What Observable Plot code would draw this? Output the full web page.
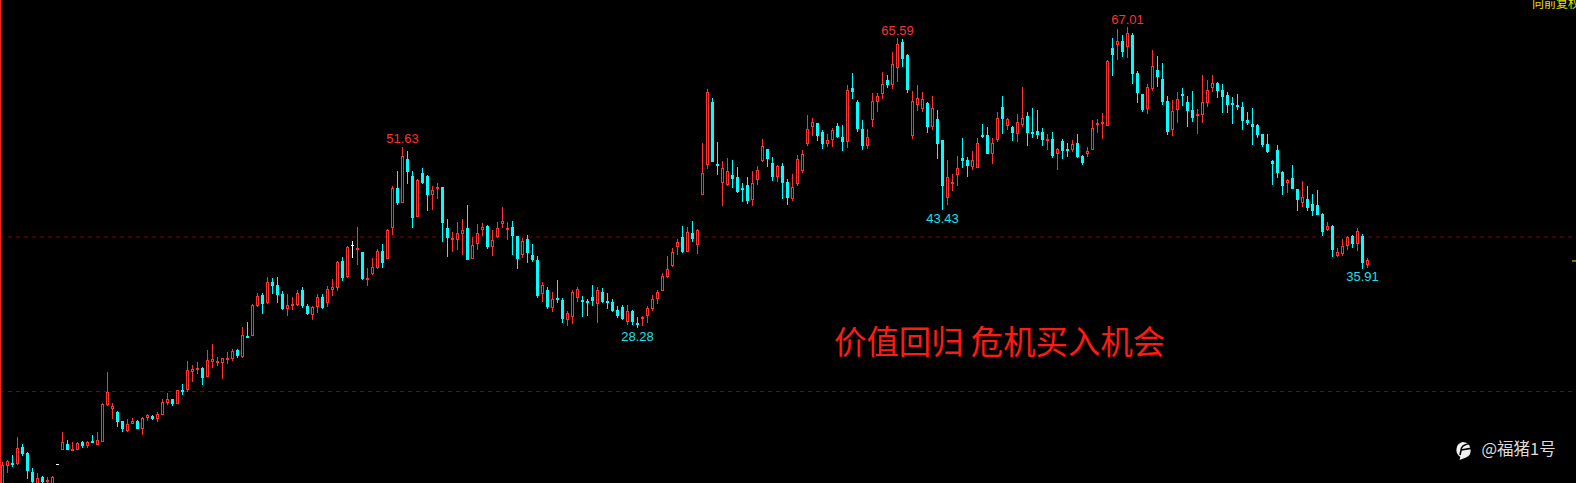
<!DOCTYPE html>
<html><head><meta charset="utf-8">
<style>html,body{margin:0;padding:0;background:#000;overflow:hidden}svg{display:block}</style>
<script src="https://cdn.jsdelivr.net/npm/d3@7"></script>
<script src="https://cdn.jsdelivr.net/npm/@observablehq/plot@0.6"></script>
</head><body><div id="chart"></div>
<script>
const tones = "rrcrcccrcr"+"rwrcrrcrcr"+"rrrccrrcrr"+"crrrcrcrrr"+"crrrrrrcrc"+"rrcrcccrrr"+"ccrrcrrrcr"+"wrcrrrcrrc"+"rccrccrrcc"+"rrrcrrrcrr"+"rrccrcccrc"+"rccrrrcccr"+"cccccrccrr"+"rrrrrrcrcr"+"rrccrrcccc"+"rrrccrccrr"+"rrrccrrccr"+"cccrrrrcrr"+"ccrrrcrccr"+"rrccrrccrr"+"crcrrccccr"+"crccrccrrr"+"rrcrcrcccr"+"rcccrrcccr"+"rrrccccccc"+"cccccccrcc"+"rccccrcrrr"+"crcr";
const high = [11.04,11.30,11.90,14.25,13.35,12.33,10.27,9.62,9.24,9.11,
9.24,10.78,14.90,13.87,13.61,13.57,13.70,13.70,14.51,14.90,
18.59,22.62,18.63,17.60,16.31,16.57,16.70,16.44,16.79,17.21,
17.09,17.47,19.10,19.92,19.14,20.30,21.07,24.03,23.52,23.91,
23.26,25.45,26.22,24.51,24.42,25.19,25.58,25.58,28.41,29.05,
31.37,32.74,32.74,34.84,34.67,34.84,33.04,32.66,32.27,33.17,
33.56,31.37,31.11,32.66,32.66,33.69,34.59,36.90,37.42,38.83,
39.48,41.28,38.06,36.00,37.29,38.45,39.09,41.02,46.55,48.48,
51.63,51.06,48.48,47.45,48.87,47.97,46.55,46.94,46.42,42.31,
40.63,41.92,42.31,44.11,39.99,41.66,41.79,41.53,40.89,41.92,
43.85,41.92,42.05,40.12,39.86,40.25,39.09,37.54,34.20,33.56,
32.91,34.46,32.14,30.47,33.17,33.56,32.40,32.01,33.81,33.56,
33.43,32.78,32.01,31.11,31.24,31.24,30.60,29.70,29.82,31.11,
32.53,33.17,35.36,37.54,38.57,39.73,41.40,41.28,42.05,41.02,
52.08,59.03,57.87,52.21,49.77,50.15,49.90,49.00,46.94,47.71,
48.48,49.12,52.60,51.31,50.28,49.25,49.51,47.45,48.10,50.54,
51.18,55.69,55.30,54.66,53.76,53.24,54.01,54.66,54.40,59.55,
61.05,57.62,55.04,53.89,58.52,58.52,61.22,60.83,63.79,65.59,
65.50,63.54,58.78,59.55,58.65,57.36,58.13,56.33,52.47,49.90,
48.10,50.41,52.73,50.28,51.05,52.73,54.53,54.14,52.73,56.07,
58.13,55.30,54.27,55.81,59.29,56.07,56.59,56.33,54.01,53.24,
53.50,51.44,52.60,52.08,52.47,53.24,50.54,51.57,55.04,55.17,
55.94,62.76,65.59,66.75,65.98,67.01,66.24,61.35,58.39,59.68,
64.05,63.28,62.38,58.13,57.62,58.65,59.16,58.13,58.77,56.46,
60.83,60.19,60.83,59.93,59.68,58.65,58.00,58.39,57.36,56.07,
56.59,54.53,53.24,53.24,49.90,51.83,48.49,47.45,49.25,46.16,
47.19,46.55,45.52,46.04,43.08,41.92,41.53,38.57,39.73,40.12,
40.25,41.15,40.38,37.29];
const bodyTop = [10.61,11.12,10.91,12.80,12.97,12.20,9.75,8.94,9.11,8.72,
9.11,10.78,13.57,13.35,12.67,13.44,13.57,13.65,13.74,13.83,
18.46,20.00,18.24,17.47,16.31,15.93,16.31,16.31,16.70,17.09,
16.96,17.21,18.72,19.10,19.14,20.26,20.30,22.83,23.00,23.13,
23.13,24.12,24.25,24.03,24.38,24.42,25.28,25.45,27.34,27.21,
31.24,32.36,32.53,34.16,34.20,33.81,32.66,31.20,31.37,32.74,
33.17,31.11,30.94,32.23,32.27,33.26,33.51,36.77,36.90,38.66,
38.96,38.58,38.06,34.71,36.13,38.15,38.19,40.89,46.29,46.29,
50.37,50.03,47.84,47.32,48.22,47.84,46.04,46.42,46.42,41.15,
39.90,40.50,40.85,41.15,38.96,40.50,41.28,41.41,39.60,41.15,
42.05,41.15,41.28,40.12,39.47,39.73,37.67,37.03,33.81,33.17,
32.01,32.14,31.88,30.21,32.91,33.30,31.88,31.75,32.27,33.17,
32.91,31.75,31.63,30.60,30.98,30.47,30.47,28.92,29.70,30.85,
32.01,32.91,34.97,35.87,38.06,39.35,39.99,40.63,40.50,40.89,
48.22,58.65,57.36,49.38,48.87,48.48,47.97,47.71,46.29,46.68,
46.94,48.61,51.70,51.31,49.51,49.12,49.12,47.07,46.42,50.02,
50.67,53.84,54.79,54.66,53.50,52.47,53.76,54.27,52.86,58.90,
59.16,57.36,53.89,52.86,57.49,58.13,59.68,60.19,62.25,64.82,
65.08,63.41,57.49,57.87,57.75,57.23,56.59,55.17,52.47,47.71,
47.07,48.87,50.15,49.90,49.90,52.08,53.11,53.11,52.08,55.30,
56.72,55.17,54.14,54.79,55.30,55.56,53.50,53.63,53.50,52.60,
52.60,51.31,52.34,51.31,51.96,52.08,50.41,51.05,54.01,54.66,
54.79,62.63,64.31,65.21,65.21,66.24,65.98,61.09,58.39,59.29,
61.99,61.48,60.32,57.49,56.20,57.75,58.39,57.36,56.33,55.82,
57.36,58.90,59.80,59.80,58.90,58.26,57.23,56.97,56.72,55.04,
54.53,54.40,53.24,51.96,49.77,51.18,48.35,47.32,47.58,46.16,
45.14,44.88,44.23,44.11,42.95,41.40,41.40,38.06,38.83,39.99,
40.12,40.76,40.12,37.03];
const bodyBottom = [7.86,10.57,10.65,10.78,12.03,9.92,8.42,7.86,8.42,8.46,
7.86,10.65,12.63,12.58,12.50,12.63,13.10,13.14,13.53,13.23,
13.65,18.42,17.90,16.19,15.29,15.03,15.93,15.29,15.33,16.70,
16.53,16.57,17.09,18.63,18.50,18.50,20.05,20.26,22.62,22.88,
21.85,21.97,23.91,23.78,23.78,24.16,24.29,24.63,24.55,26.99,
27.25,31.11,31.37,31.50,33.69,32.53,30.73,30.73,31.11,31.24,
31.11,30.08,29.95,30.98,30.85,31.50,33.17,33.43,34.71,34.84,
38.83,38.32,34.59,34.46,35.23,36.00,36.64,37.16,41.15,44.36,
44.41,48.35,42.43,42.56,46.94,45.39,45.39,46.17,41.79,39.86,
39.60,39.60,40.38,37.03,37.16,39.09,40.89,38.70,38.70,39.99,
41.66,40.89,40.12,37.16,37.67,37.93,37.03,32.40,32.66,30.98,
30.85,31.88,29.44,29.31,29.70,32.14,31.63,31.50,31.75,31.37,
31.63,31.50,30.47,29.82,29.44,29.05,29.05,28.67,29.44,29.82,
30.72,32.01,33.04,34.84,36.26,38.70,38.06,38.06,39.73,38.96,
45.39,49.25,49.64,49.12,46.98,46.68,47.45,45.78,46.04,44.62,
44.75,47.32,49.77,50.02,47.71,47.71,46.94,45.01,44.88,46.81,
48.48,51.96,54.14,52.98,51.96,51.96,52.47,52.86,52.21,52.21,
58.65,53.89,51.70,51.70,55.04,57.36,58.39,59.55,59.55,61.73,
62.89,58.90,52.98,56.97,56.46,54.14,54.14,51.96,46.55,45.01,
46.81,47.97,49.77,49.12,48.99,48.87,52.86,50.67,50.67,52.47,
55.17,54.27,53.37,53.24,54.40,53.37,53.24,53.11,52.47,52.34,
50.41,50.67,51.05,51.05,51.18,50.28,49.51,50.67,51.18,54.40,
54.53,54.27,63.41,64.69,63.79,64.44,60.96,58.52,56.33,56.46,
59.03,60.58,57.36,53.50,53.76,56.33,58.13,56.20,55.30,55.56,
55.69,57.23,59.16,58.77,58.00,56.97,56.97,56.72,54.91,54.66,
54.14,53.11,51.83,50.93,49.38,48.22,46.55,46.94,46.16,44.75,
44.36,43.72,43.34,42.82,40.63,40.89,38.31,37.54,37.80,38.83,
39.09,39.09,36.64,36.39];
const low = [7.65,9.62,10.40,10.65,11.81,8.85,8.21,7.65,8.21,8.21,
7.65,10.65,12.63,12.58,12.50,12.63,12.88,12.88,13.53,13.23,
13.65,18.29,16.57,15.54,14.90,14.90,15.93,15.29,14.51,16.31,
16.44,16.19,17.09,18.37,18.24,18.50,19.66,20.05,21.33,22.36,
20.95,21.97,23.13,23.39,21.72,23.65,24.03,24.42,24.42,26.99,
27.25,30.98,30.08,31.37,32.66,31.50,30.60,29.83,30.60,31.11,
30.85,29.95,29.31,30.21,30.73,30.98,32.40,33.04,34.33,34.71,
37.29,36.39,34.46,33.69,35.10,35.87,36.00,37.16,40.25,44.11,
44.41,46.81,41.15,42.56,46.81,43.33,43.46,44.88,39.35,37.42,
38.06,38.32,37.67,37.03,37.16,38.32,40.12,38.45,37.54,39.86,
41.15,39.60,37.67,35.87,37.29,36.64,36.77,32.14,31.63,30.72,
30.34,31.50,28.92,28.54,28.79,31.63,29.70,29.82,31.11,28.92,
31.50,30.72,30.34,29.57,29.31,28.67,28.67,28.28,28.54,28.92,
30.47,31.37,33.04,34.71,36.13,37.67,37.93,38.06,39.35,37.80,
45.39,48.74,49.64,47.97,43.98,46.55,46.29,45.65,44.49,44.23,
43.98,46.68,49.64,49.00,47.19,47.07,44.88,44.11,44.62,46.55,
48.22,51.70,52.98,52.34,51.31,51.57,51.57,52.73,51.05,51.44,
57.75,53.50,51.18,51.31,54.14,56.07,57.75,59.16,59.03,59.93,
61.86,58.52,52.60,56.20,56.07,53.37,53.76,50.03,43.43,44.11,
45.91,46.55,48.87,47.71,48.61,48.87,52.73,50.67,49.38,52.21,
53.24,53.76,52.34,52.21,54.14,51.70,52.73,52.60,51.70,51.18,
50.15,48.61,50.03,50.28,50.92,50.15,49.25,50.28,51.18,53.37,
52.60,54.27,60.70,62.76,63.15,63.02,59.68,57.23,56.07,55.81,
58.78,59.29,56.97,53.11,52.98,54.66,56.85,54.14,54.79,53.24,
54.66,56.72,58.65,57.87,55.94,55.94,54.53,56.33,53.76,54.40,
51.83,52.73,51.57,50.80,46.68,47.58,45.39,45.65,46.16,43.34,
43.85,43.34,42.69,42.82,40.12,40.76,37.42,37.42,37.54,38.31,
38.57,38.19,35.91,36.00];
const peakIdx = [80,179,225];
const troughIdx = [127,188,272];
const levels = [40.05,20.17];
const lastPriceTick = 36.97;
const headline = "价值回归 危机买入机会";
const watermark = "@福猪1号";
const corner = "向前复权";

const candles = Array.from(tones,(tone,i)=>({i,tone,high:high[i],top:bodyTop[i],bottom:bodyBottom[i],low:low[i]}));
const toneColor = {r:"#ff3232",c:"#00ffff",w:"#ffffff"};
const by = t=>candles.filter(d=>d.tone===t);

const chart = Plot.plot({
  width:1576,height:483,
  marginTop:0,marginRight:0,marginBottom:0,marginLeft:0,
  style:{background:"#000"},
  x:{type:"linear",domain:[-0.4,314.8],range:[0,1576],axis:null},
  y:{type:"linear",domain:[8.34,70.484],range:[483,0],axis:null},
  color:{type:"identity"},
  marks:[
    Plot.ruleY(levels,{stroke:"#8c0000",strokeWidth:1,strokeDasharray:"4 4"}),
    Plot.ruleY([lastPriceTick],{x1:314,x2:314.8,stroke:"#e6e600",strokeWidth:1}),
    Plot.ruleX([-0.4],{stroke:"#ff2020",strokeWidth:1}),
    Plot.ruleX(candles,{x:"i",y1:"low",y2:"high",stroke:d=>toneColor[d.tone],strokeWidth:1,shapeRendering:"crispEdges"}),
    Plot.rect(by("r"),{x1:d=>d.i-0.2,x2:d=>d.i+0.2,y1:"bottom",y2:"top",insetTop:0.5,insetBottom:0.5,fill:"#000",stroke:"#ff3232",strokeWidth:1,shapeRendering:"crispEdges"}),
    Plot.rect(by("c"),{x1:d=>d.i-0.3,x2:d=>d.i+0.3,y1:"bottom",y2:"top",fill:"#00ffff",shapeRendering:"crispEdges"}),
    Plot.rect(by("w"),{x1:d=>d.i-0.3,x2:d=>d.i+0.3,y1:"bottom",y2:"top",fill:"#ffffff",shapeRendering:"crispEdges"}),
    Plot.text(peakIdx,{x:d=>d,y:d=>high[d],text:d=>high[d].toFixed(2),dy:-8,fill:"#ff3232",fontFamily:"Liberation Sans",fontSize:13}),
    Plot.text(troughIdx,{x:d=>d,y:d=>low[d],text:d=>low[d].toFixed(2),dy:8,fill:"#1fe0e8",fontFamily:"Liberation Sans",fontSize:13}),
    Plot.text([headline],{x:166.3,y:26.35,text:d=>d,textAnchor:"start",fill:"#ff1a12",fontFamily:"Noto Sans CJK SC",fontWeight:400,fontSize:32.4}),
    Plot.text([watermark],{x:295.8,y:12.7,text:d=>d,textAnchor:"start",fill:"#dcdcdc",fontFamily:"Noto Sans CJK SC",fontSize:16.5}),
    Plot.text([corner],{x:305.9,y:70.05,text:d=>d,textAnchor:"start",fill:"#e0e000",fontFamily:"Noto Sans CJK SC",fontSize:12})
  ]
});
document.getElementById("chart").append(chart);
const svg = d3.select(chart);
svg.append("path").attr("fill","#f2f2f2").attr("d","M1462.5 442a8.2 8.2 0 0 1 3.5 15.6l-6.5 2.4 .8-3.1a8.2 8.2 0 0 1 2.2-14.9z");
svg.append("path").attr("fill","none").attr("stroke","#000").attr("stroke-width",1.6).attr("d","M1470 443.5c-4 .5-7 1.5-8.5 4.5l-1.5 7M1461 450l10-1.6");
const lens = [high,bodyTop,bodyBottom,low].map(a=>a.length);
if (lens.some(n=>n!==tones.length)) console.error("length mismatch",tones.length,lens);
</script></body></html>
